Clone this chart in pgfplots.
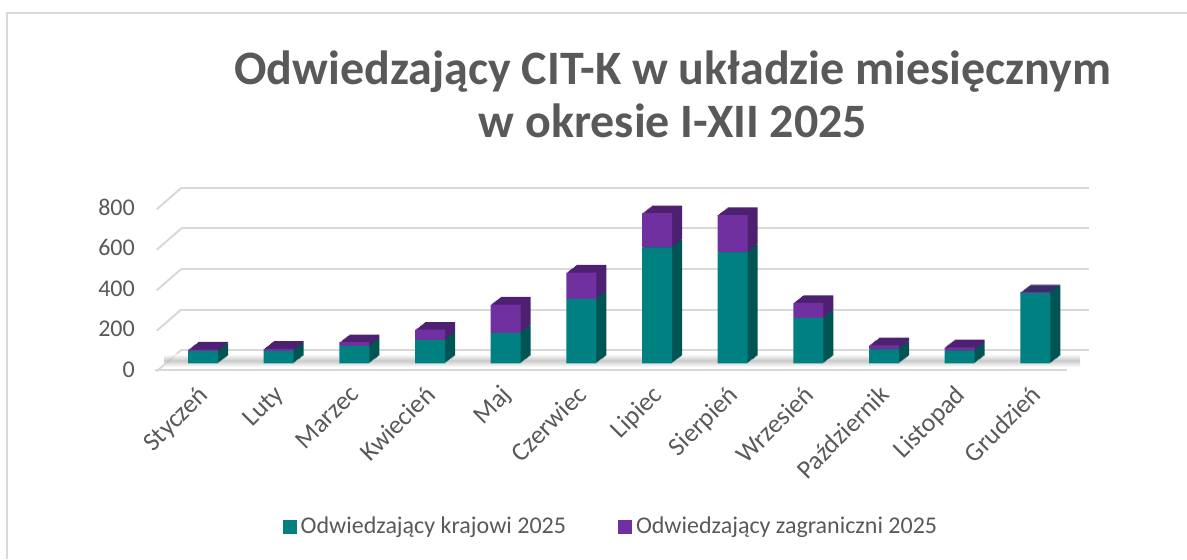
\documentclass[border=0pt]{standalone}
\usepackage{fontspec}
\setmainfont{Carlito}
\usepackage{pgfplots}
\pgfplotsset{compat=1.18}
\usepackage{pgfplotstable}

\definecolor{krajowi}{HTML}{008080}
\definecolor{zagr}{HTML}{7030A0}
\definecolor{krajowiside}{HTML}{005454}
\definecolor{zagrside}{HTML}{4E2072}
\definecolor{txt}{HTML}{595959}
\definecolor{gridc}{HTML}{D9D9D9}

% odwiedzajacy CIT-K 2025
\pgfplotstableread{
idx krajowi zagraniczni
0   60  8
1   62  9
2   86  18
3   116 50
4   150 140
5   318 130
6   573 168
7   548 184
8   224 74
9   69  20
10  63  16
11  346 5
}\dane

\pgfplotsset{
  bary/.style={
    anchor=south west,
    width=454pt, height=81pt, scale only axis,
    xmin=-0.5, xmax=11.5, ymin=0, ymax=800,
    ybar stacked, bar width=15pt,
  },
}

\begin{document}
\begin{tikzpicture}
\useasboundingbox (0,0) rectangle (593.5pt,279.5pt);

% ramka
\draw[gridc, line width=1pt] (3.35pt,0) -- (3.35pt,273.15pt) -- (600pt,273.15pt);

% tytul
\node[anchor=base, font=\bfseries\fontsize{24}{28}\selectfont, text=txt]
  at (336.5pt,237.5pt) {Odwiedzający CIT-K w układzie miesięcznym};
\node[anchor=base, font=\bfseries\fontsize{24}{28}\selectfont, text=txt]
  at (336.5pt,211pt) {w okresie I-XII 2025};

% tylna sciana z siatka
\begin{axis}[bary, at={(90.6pt,104.5pt)},
  axis line style={draw=none}, major tick length=0pt,
  xtick=\empty, ytick={0,200,...,800}, yticklabels={},
  ymajorgrids, grid style={gridc, line width=1pt}]
\end{axis}

% boczna sciana
\foreach \v in {0,200,...,800}
  \draw[gridc, line width=1pt] (78.35pt,{93.85pt+\v*0.10125pt}) -- (90.6pt,{104.5pt+\v*0.10125pt});

% podloga
\draw[gridc, line width=1pt] (77.5pt,94.6pt) -- (533.5pt,94.6pt);
\shade[top color=white, bottom color=white, middle color=gray!60, opacity=0.7]
  (82pt,96pt) rectangle (540pt,102.5pt);

% boki i gora slupkow
\foreach \k in {8,7,...,1} {
\begin{axis}[bary, hide axis, at={({82.6pt+\k*0.625pt},{97.85pt+\k*0.48pt})}]
\addplot[fill=krajowiside, draw=none] table[x=idx, y=krajowi] {\dane};
\addplot[fill=zagrside, draw=none] table[x=idx, y=zagraniczni] {\dane};
\end{axis}
}

% przod slupkow
\begin{axis}[bary, at={(82.6pt,97.85pt)},
  axis line style={draw=none}, major tick length=0pt,
  ytick={0,200,...,800}, xtick={0,...,11},
  xticklabels={Styczeń,Luty,Marzec,Kwiecień,Maj,Czerwiec,Lipiec,Sierpień,Wrzesień,Październik,Listopad,Grudzień},
  /pgf/number format/assume math mode=true,
  ticklabel style={font=\fontsize{12}{14}\selectfont, text=txt},
  yticklabel style={anchor=east, inner sep=0pt, xshift=-15pt, yshift=-3pt},
  xticklabel style={font=\fontsize{13}{15}\selectfont, xshift=-3pt, yshift=-10pt, rotate=45, anchor=north east, inner sep=0pt},
  legend style={at={(0.492,-1.0105)}, anchor=center, draw=none, fill=none,
    font=\fontsize{12}{14}\selectfont, text=txt, legend columns=2,
    /tikz/every even column/.append style={column sep=24pt}},
  legend image code/.code={\fill[#1] (0pt,-3.5pt) rectangle (7pt,3.5pt);},
]
\addplot[fill=krajowi, draw=none] table[x=idx, y=krajowi] {\dane};
\addlegendentry{Odwiedzający krajowi 2025}
\addplot[fill=zagr, draw=none] table[x=idx, y=zagraniczni] {\dane};
\addlegendentry{Odwiedzający zagraniczni 2025}
\end{axis}
\end{tikzpicture}
\end{document}
